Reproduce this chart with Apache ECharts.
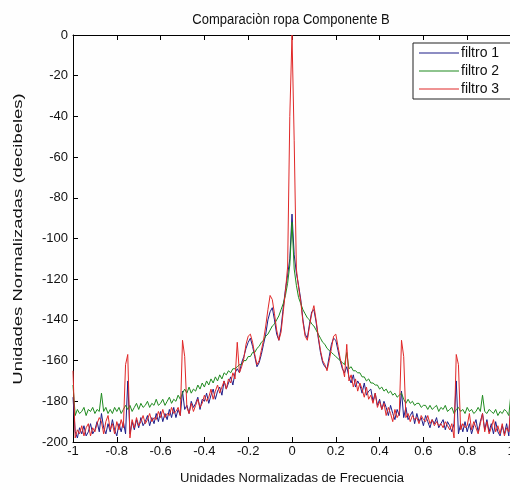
<!DOCTYPE html>
<html>
<head>
<meta charset="utf-8">
<script src="https://cdn.jsdelivr.net/npm/echarts@6/dist/echarts.min.js"></script>
<style>
html,body{margin:0;padding:0;background:#fff;}
#c{width:510px;height:490px;}
</style>
</head>
<body>
<div id="c"></div>
<script>
const titleText = 'Comparaciòn ropa Componente B';
const xName = 'Unidades Normalizadas de Frecuencia';
const yName = 'Unidades Normalizadas (decibeles)';
const seriesNames = ['filtro 1', 'filtro 2', 'filtro 3'];
const seriesColors = ['#1c1c88', '#1e8a1e', '#e02828'];

// sample grid: normalized frequency from -1 to 1, step 0.01
const freq = [];
for (let i = 0; i <= 200; i++) freq.push(+(-1 + i * 0.01).toFixed(2));

const filtro1 = [
-178,-195,-198,-193,-196,-192,-197,-195,-191,-196,
-194,-190,-195,-186,-193,-196,-191,-195,-189,-194,
-197,-191,-195,-190,-196,-170,-196,-190,-194,-189,
-193,-188,-192,-190,-187,-192,-188,-191,-186,-190,
-185,-190,-186,-189,-184,-188,-183,-188,-184,-187,
-175,-184,-182,-186,-180,-183,-181,-178,-184,-179,
-180,-176,-181,-177,-174,-179,-175,-173,-177,-170,
-174,-171,-168,-172,-166,-164,-166,-161,-158,-154,
-151,-149,-153,-158,-163,-161,-157,-152,-147,-140,
-136,-134,-140,-147,-150,-144,-134,-125,-118,-110,
-88,
-108,-117,-123,-130,-140,-147,-149,-142,-136,-135,
-141,-149,-156,-161,-163,-164,-158,-152,-149,-150,
-155,-160,-164,-166,-163,-168,-171,-167,-173,-170,
-172,-176,-171,-177,-175,-174,-180,-176,-182,-179,
-184,-180,-183,-187,-182,-186,-189,-184,-187,-175,
-188,-183,-189,-187,-185,-191,-186,-190,-188,-192,
-187,-190,-193,-189,-191,-188,-193,-191,-189,-194,
-190,-192,-195,-191,-170,-196,-191,-195,-190,-195,
-191,-196,-192,-189,-195,-190,-186,-194,-189,-195,
-191,-196,-190,-195,-197,-192,-196,-191,-197,-180
];

const filtro2 = [
-172,-187,-184,-186,-185,-183,-187,-184,-185,-183,
-186,-184,-185,-176,-185,-183,-186,-184,-186,-183,
-185,-183,-186,-184,-182,-184,-182,-185,-183,-181,
-184,-181,-183,-182,-180,-183,-181,-182,-179,-182,
-181,-179,-182,-180,-178,-181,-179,-180,-177,-179,
-176,-174,-176,-173,-176,-174,-175,-172,-174,-171,
-173,-170,-172,-169,-171,-168,-170,-167,-169,-166,
-167,-165,-166,-164,-164,-163,-162,-162,-160,-160,
-158,-158,-156,-156,-154,-153,-151,-150,-148,-147,
-145,-143,-142,-140,-138,-135,-132,-128,-122,-113,
-92,
-115,-123,-129,-132,-135,-137,-139,-140,-142,-143,
-145,-147,-149,-151,-152,-154,-155,-156,-157,-158,
-159,-160,-161,-162,-156,-164,-163,-165,-165,-166,
-166,-168,-168,-170,-169,-171,-171,-172,-172,-174,
-173,-175,-174,-176,-175,-177,-176,-178,-177,-176,
-179,-181,-179,-181,-180,-182,-181,-181,-183,-182,
-182,-184,-182,-184,-183,-182,-185,-183,-184,-182,
-185,-184,-183,-186,-184,-183,-185,-184,-186,-183,
-185,-184,-186,-185,-183,-185,-177,-185,-186,-184,
-185,-186,-184,-187,-185,-186,-184,-185,-187,-176
];

const filtro3 = [
-165,-198,-194,-196,-192,-197,-193,-191,-197,-193,
-195,-191,-188,-190,-196,-190,-187,-194,-191,-196,
-190,-194,-189,-193,-162,-157,-198,-189,-193,-188,
-192,-190,-187,-191,-189,-186,-190,-188,-189,-185,
-188,-184,-188,-186,-187,-183,-186,-185,-183,-187,
-150,-158,-183,-186,-181,-185,-182,-179,-183,-181,
-177,-180,-178,-174,-179,-175,-172,-176,-173,-170,
-174,-169,-171,-166,-169,-151,-166,-163,-159,-152,
-148,-147,-151,-157,-162,-160,-155,-150,-143,-135,
-128,-130,-137,-145,-150,-146,-136,-126,-114,-40,
0,
-52,-115,-124,-131,-141,-148,-150,-143,-137,-133,
-140,-148,-155,-160,-162,-165,-160,-154,-148,-147,
-153,-159,-163,-168,-152,-170,-167,-173,-169,-175,
-171,-174,-178,-173,-179,-177,-181,-176,-183,-180,
-184,-181,-187,-183,-186,-190,-184,-188,-186,-150,
-158,-188,-186,-190,-187,-189,-188,-191,-187,-189,
-190,-187,-191,-189,-192,-190,-192,-191,-193,-190,
-192,-194,-191,-198,-157,-162,-194,-191,-193,-192,
-186,-194,-190,-193,-196,-191,-186,-195,-190,-196,
-193,-189,-195,-192,-196,-191,-197,-193,-195,-182
];

const xMin = -1, xMax = 1, xStep = 0.2;
const yMin = -200, yMax = 0, yStep = 20;

const FONT = "'Liberation Sans',Arial,Helvetica,sans-serif";
const allData = [filtro1, filtro2, filtro3];
const lineIcon = 'path://M0,0L0.01,0ZM0,6.5L40,6.5L40,7.5L0,7.5ZM40,14L40.01,14Z';

const chart = echarts.init(document.getElementById('c'), null, {renderer: 'canvas'});
chart.setOption({
  backgroundColor: '#fefefe',
  animation: false,
  graphic: [{
    type: 'text', x: 291, y: 20, scaleY: 1.15,
    style: {text: titleText, fill: '#111', font: '13px ' + FONT, align: 'center', verticalAlign: 'middle'}
  }, {
    type: 'text', x: 18, y: 239, rotation: Math.PI / 2, scaleX: 1.42,
    style: {text: yName, fill: '#111', font: '13px ' + FONT, align: 'center', verticalAlign: 'middle'}
  }],
  grid: {left: 73, top: 35, width: 438, height: 407, containLabel: false, outerBoundsMode: 'none'},
  legend: {
    orient: 'vertical', left: 413, top: 43,
    data: seriesNames.map(n => ({name: n, icon: lineIcon})),
    itemWidth: 40, itemHeight: 14, itemGap: 4,
    padding: [3, 60, 3, 6],
    backgroundColor: '#fff', borderColor: '#222', borderWidth: 1,
    textStyle: {fontFamily: FONT, fontSize: 14, color: '#111', padding: [0, 0, 0, -3]}
  },
  xAxis: [{
    type: 'value', min: xMin, max: xMax, interval: xStep, position: 'bottom',
    name: xName, nameLocation: 'middle', nameGap: 30,
    nameTextStyle: {fontFamily: FONT, fontSize: 13, color: '#111'},
    axisLine: {onZero: false, lineStyle: {color: '#000', width: 1}},
    axisTick: {inside: true, length: 5, lineStyle: {color: '#000'}},
    axisLabel: {fontFamily: FONT, fontSize: 13, color: '#111', margin: 3,
      formatter: v => String(+v.toFixed(1))},
    splitLine: {show: false}
  }, {
    type: 'value', min: xMin, max: xMax, interval: xStep, position: 'top',
    axisLine: {onZero: false, lineStyle: {color: '#000', width: 1}},
    axisTick: {inside: true, length: 5, lineStyle: {color: '#000'}},
    axisLabel: {show: false}, splitLine: {show: false}
  }],
  yAxis: [{
    type: 'value', min: yMin, max: yMax, interval: yStep, position: 'left',
    axisLine: {show: true, onZero: false, lineStyle: {color: '#000', width: 1}},
    axisTick: {show: true, inside: true, length: 5, lineStyle: {color: '#000'}},
    axisLabel: {fontFamily: FONT, fontSize: 13, color: '#111', margin: 5},
    splitLine: {show: false}
  }],
  series: seriesNames.map((n, k) => ({
    name: n, type: 'line', xAxisIndex: 0, yAxisIndex: 0,
    data: freq.map((f, i) => [f, allData[k][i]]),
    symbol: 'none', smooth: false, sampling: null,
    lineStyle: {color: seriesColors[k], width: 1},
    itemStyle: {color: seriesColors[k]},
    clip: true, z: 2 + k
  }))
});
</script>
</body>
</html>
